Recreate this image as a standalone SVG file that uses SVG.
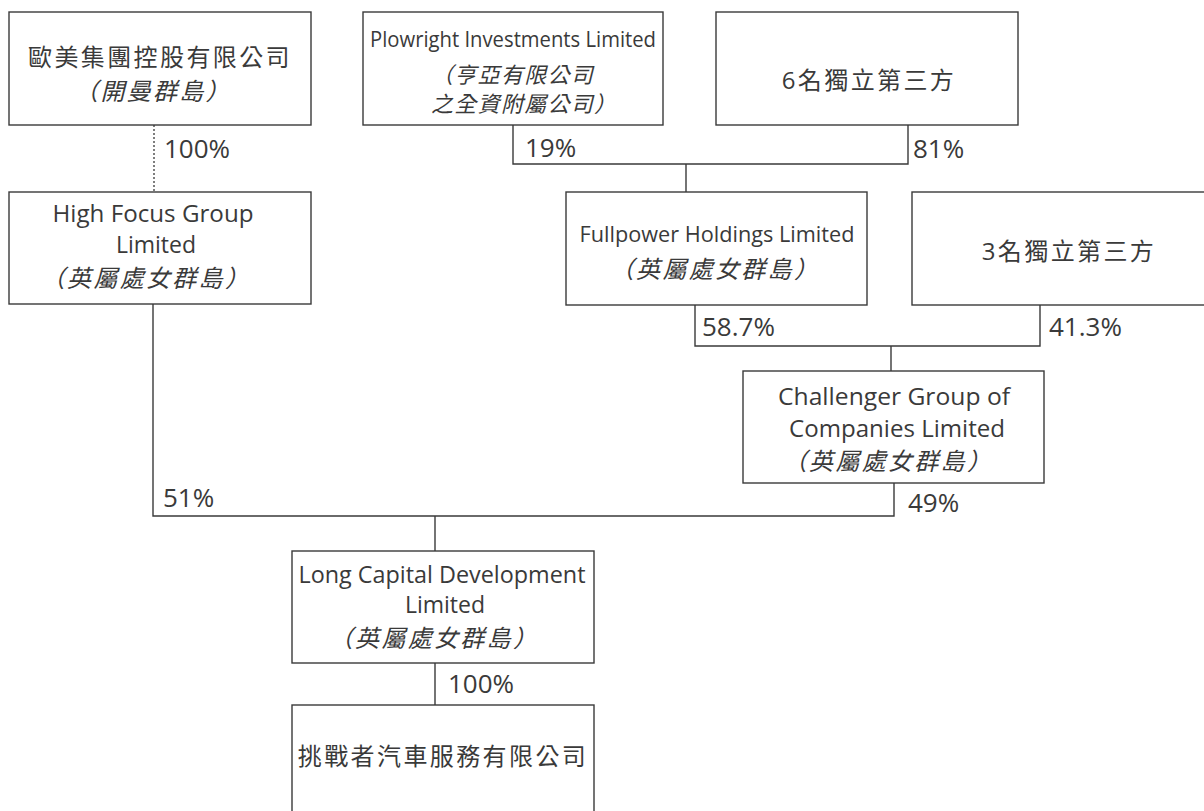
<svg xmlns="http://www.w3.org/2000/svg" width="1204" height="811" viewBox="0 0 1204 811">
<style>
.box{fill:#fff;stroke:#3a3a3a;stroke-width:1.4}
.ln{fill:none;stroke:#3a3a3a;stroke-width:1.4}
.dot{fill:none;stroke:#3a3a3a;stroke-width:1.3;stroke-dasharray:2 2}
text{fill:#3a3a3a;font-family:"Open Sans","Noto Sans CJK TC",sans-serif}
.en{font-size:23px;text-anchor:middle}
.cn{font-family:"Noto Sans CJK TC","Noto Sans CJK SC",sans-serif;font-size:24px;letter-spacing:2.4px;text-anchor:middle}
.mix{font-family:"Open Sans","Noto Sans CJK TC",sans-serif;font-size:24px;letter-spacing:2.4px;text-anchor:middle}
.it{font-family:"Noto Sans CJK TC","Noto Sans CJK SC",sans-serif;font-size:24px;font-style:italic;letter-spacing:2.3px;text-anchor:middle}
.its{font-family:"Noto Sans CJK TC","Noto Sans CJK SC",sans-serif;font-size:22px;font-style:italic;letter-spacing:1.3px}
.pct{font-size:26px}
</style>
<rect width="1204" height="811" fill="#fff"/>
<g id="connectors">
<path class="dot" d="M154 125V192"/>
<path class="ln" d="M513 125V164H908V125"/>
<path class="ln" d="M686 164V192"/>
<path class="ln" d="M695 305V346H1040V305"/>
<path class="ln" d="M891 346V371"/>
<path class="ln" d="M153 304V516H894V483"/>
<path class="ln" d="M435 516V551"/>
<path class="ln" d="M435 663V705"/>
<text class="pct" x="164" y="158">100%</text>
<text class="pct" x="525" y="157">19%</text>
<text class="pct" x="913" y="158">81%</text>
<text class="pct" x="702" y="336">58.7%</text>
<text class="pct" x="1049" y="336">41.3%</text>
<text class="pct" x="163" y="507">51%</text>
<text class="pct" x="908" y="512">49%</text>
<text class="pct" x="448" y="693">100%</text>
</g>
<g id="n_oumei">
<rect class="box" x="9" y="12" width="302" height="113"/>
<text class="cn" x="160" y="66">歐美集團控股有限公司</text>
<text class="it" x="153" y="100">（開曼群島）</text>
</g>
<g id="n_highfocus">
<rect class="box" x="9" y="192" width="302" height="112"/>
<text class="en" x="153" y="222" textLength="201" lengthAdjust="spacingAndGlyphs">High Focus Group</text>
<text class="en" x="156" y="253">Limited</text>
<text class="it" x="146" y="287">（英屬處女群島）</text>
</g>
<g id="n_plowright">
<rect class="box" x="363" y="12" width="300" height="113"/>
<text class="en" x="513" y="47" style="font-size:21px" textLength="286" lengthAdjust="spacingAndGlyphs">Plowright Investments Limited</text>
<text class="its" x="431" y="83">（亨亞有限公司</text>
<text class="its" x="431" y="112">之全資附屬公司）</text>
</g>
<g id="n_six">
<rect class="box" x="716" y="12" width="302" height="113"/>
<text class="mix" x="869" y="89">6名獨立第三方</text>
</g>
<g id="n_fullpower">
<rect class="box" x="566" y="192" width="301" height="113"/>
<text class="en" x="717" y="242" style="font-size:22px" textLength="275" lengthAdjust="spacingAndGlyphs">Fullpower Holdings Limited</text>
<text class="it" x="715" y="278">（英屬處女群島）</text>
</g>
<g id="n_three">
<rect class="box" x="912" y="192" width="302" height="113"/>
<text class="mix" x="1069" y="260">3名獨立第三方</text>
</g>
<g id="n_challenger">
<rect class="box" x="743" y="371" width="301" height="112"/>
<text class="en" x="894" y="405" textLength="232" lengthAdjust="spacingAndGlyphs">Challenger Group of</text>
<text class="en" x="897" y="437" textLength="216" lengthAdjust="spacingAndGlyphs">Companies Limited</text>
<text class="it" x="888" y="470">（英屬處女群島）</text>
</g>
<g id="n_longcap">
<rect class="box" x="292" y="551" width="302" height="112"/>
<text class="en" x="442" y="583" textLength="287" lengthAdjust="spacingAndGlyphs">Long Capital Development</text>
<text class="en" x="445" y="613">Limited</text>
<text class="it" x="434" y="647">（英屬處女群島）</text>
</g>
<g id="n_tiaozhan">
<rect class="box" x="292" y="705" width="302" height="120"/>
<text class="cn" x="443" y="765">挑戰者汽車服務有限公司</text>
</g>
</svg>
